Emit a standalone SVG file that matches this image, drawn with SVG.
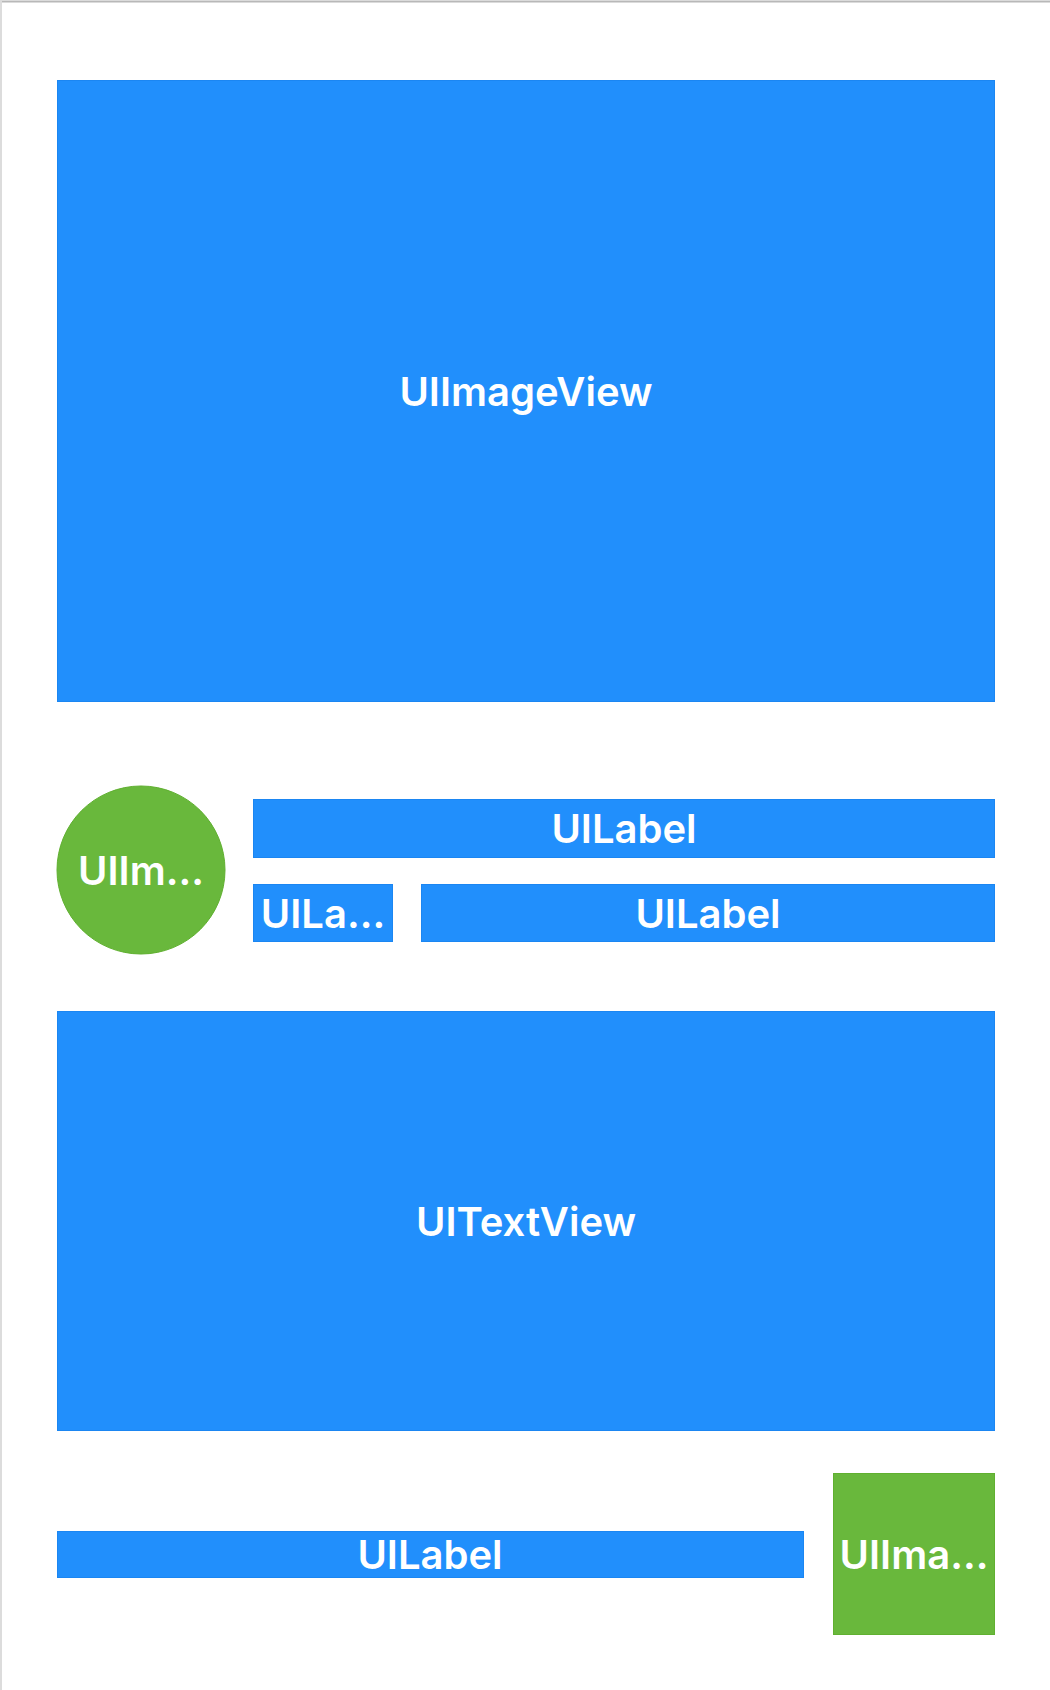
<svg xmlns="http://www.w3.org/2000/svg" width="1050" height="1690" viewBox="0 0 1050 1690">
  <style>
    .view { fill: #218ffc; stroke: #1b86f2; stroke-width: 1; }
    .image { fill: #69b83c; stroke: #60b030; stroke-width: 1; }
    .title { fill: #ffffff; font-family: Inter, "Liberation Sans", sans-serif; font-weight: 600; font-size: 40px; text-anchor: middle; dominant-baseline: central; }
  </style>
  <rect x="0" y="0" width="1050" height="1690" fill="#ffffff"/>
  <!-- window frame edges -->
  <line x1="0" y1="1.5" x2="1050" y2="1.5" stroke="#b8b8b8" stroke-width="2"/>
  <line x1="1" y1="0" x2="1" y2="1690" stroke="#dcdcdc" stroke-width="2"/>

  <g id="header-image">
    <rect class="view" x="57.5" y="80.5" width="937" height="621"/>
    <text class="title" x="526" y="391">UIImageView</text>
  </g>
  <g id="avatar">
    <circle class="image" cx="141" cy="870" r="84"/>
    <text class="title" x="141" y="870">UIIm…</text>
  </g>
  <g id="name-label">
    <rect class="view" x="253.5" y="799.5" width="741" height="58"/>
    <text class="title" x="624" y="828.5">UILabel</text>
  </g>
  <g id="tag-label">
    <rect class="view" x="253.5" y="884.5" width="139" height="57"/>
    <text class="title" x="323" y="913">UILa…</text>
  </g>
  <g id="detail-label">
    <rect class="view" x="421.5" y="884.5" width="573" height="57"/>
    <text class="title" x="708" y="913">UILabel</text>
  </g>
  <g id="body-text">
    <rect class="view" x="57.5" y="1011.5" width="937" height="419"/>
    <text class="title" x="526" y="1221">UITextView</text>
  </g>
  <g id="footer-label">
    <rect class="view" x="57.5" y="1531.5" width="746" height="46"/>
    <text class="title" x="430" y="1554.5">UILabel</text>
  </g>
  <g id="footer-image">
    <rect class="image" x="833.5" y="1473.5" width="161" height="161"/>
    <text class="title" x="914" y="1554">UIIma…</text>
  </g>
  <g id="connectors"/>
</svg>
